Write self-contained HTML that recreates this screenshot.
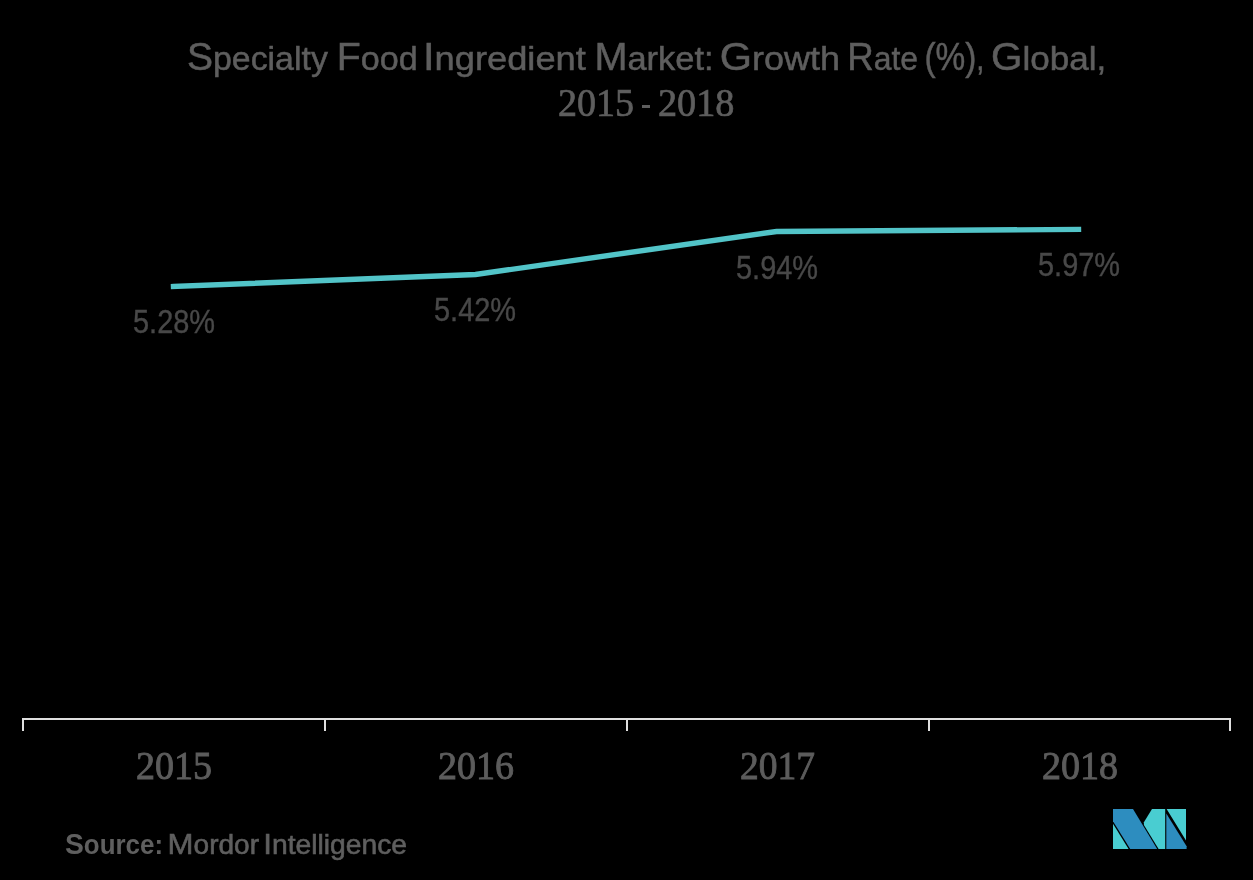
<!DOCTYPE html>
<html><head><meta charset="utf-8">
<style>
html,body{margin:0;padding:0;background:#000;width:1253px;height:880px;overflow:hidden}
svg{position:absolute;left:0;top:0;display:block;will-change:transform}
text{font-family:"Liberation Sans",sans-serif}
</style></head>
<body>
<svg width="1253" height="880" viewBox="0 0 1253 880">
<rect x="0" y="0" width="1253" height="880" fill="#000"/>
<text x="187.00" y="70" font-size="38" font-weight="normal" fill="#5e5e5e" stroke="#5e5e5e" stroke-width="0.5" textLength="140.81" lengthAdjust="spacingAndGlyphs"><tspan>S</tspan><tspan font-size="33">pecialty</tspan></text>
<text x="336.80" y="70" font-size="38" font-weight="normal" fill="#5e5e5e" stroke="#5e5e5e" stroke-width="0.5" textLength="80.97" lengthAdjust="spacingAndGlyphs"><tspan>F</tspan><tspan font-size="33">ood</tspan></text>
<text x="422.90" y="70" font-size="38" font-weight="normal" fill="#5e5e5e" stroke="#5e5e5e" stroke-width="0.5" textLength="162.98" lengthAdjust="spacingAndGlyphs"><tspan>I</tspan><tspan font-size="33">ngredient</tspan></text>
<text x="594.40" y="70" font-size="38" font-weight="normal" fill="#5e5e5e" stroke="#5e5e5e" stroke-width="0.5" textLength="119.19" lengthAdjust="spacingAndGlyphs"><tspan>M</tspan><tspan font-size="33">arket:</tspan></text>
<text x="719.70" y="70" font-size="38" font-weight="normal" fill="#5e5e5e" stroke="#5e5e5e" stroke-width="0.5" textLength="120.33" lengthAdjust="spacingAndGlyphs"><tspan>G</tspan><tspan font-size="33">rowth</tspan></text>
<text x="847.20" y="70" font-size="38" font-weight="normal" fill="#5e5e5e" stroke="#5e5e5e" stroke-width="0.5" textLength="70.90" lengthAdjust="spacingAndGlyphs"><tspan>R</tspan><tspan font-size="33">ate</tspan></text>
<text x="924.40" y="70" font-size="38" font-weight="normal" fill="#5e5e5e" stroke="#5e5e5e" stroke-width="0.5" textLength="60.02" lengthAdjust="spacingAndGlyphs"><tspan>(%)</tspan><tspan font-size="33">,</tspan></text>
<text x="991.00" y="70" font-size="38" font-weight="normal" fill="#5e5e5e" stroke="#5e5e5e" stroke-width="0.5" textLength="115.26" lengthAdjust="spacingAndGlyphs"><tspan>G</tspan><tspan font-size="33">lobal,</tspan></text>
<text x="558.00" y="115.5" font-size="40" font-weight="normal" style="font-family:&quot;Liberation Serif&quot;" fill="#5e5e5e" stroke="#5e5e5e" stroke-width="0.7" textLength="76.06" lengthAdjust="spacingAndGlyphs">2015</text>
<text x="658.00" y="115.5" font-size="40" font-weight="normal" style="font-family:&quot;Liberation Serif&quot;" fill="#5e5e5e" stroke="#5e5e5e" stroke-width="0.7" textLength="76.48" lengthAdjust="spacingAndGlyphs">2018</text>
<text x="133.00" y="333" font-size="34" font-weight="normal" fill="#484848" stroke="#484848" stroke-width="0.4" textLength="82.05" lengthAdjust="spacingAndGlyphs">5.28%</text>
<text x="434.00" y="321" font-size="34" font-weight="normal" fill="#484848" stroke="#484848" stroke-width="0.4" textLength="82.05" lengthAdjust="spacingAndGlyphs">5.42%</text>
<text x="736.00" y="279" font-size="34" font-weight="normal" fill="#484848" stroke="#484848" stroke-width="0.4" textLength="82.05" lengthAdjust="spacingAndGlyphs">5.94%</text>
<text x="1038.00" y="276" font-size="34" font-weight="normal" fill="#484848" stroke="#484848" stroke-width="0.4" textLength="82.05" lengthAdjust="spacingAndGlyphs">5.97%</text>
<text x="136.00" y="779.3" font-size="41" font-weight="normal" style="font-family:&quot;Liberation Serif&quot;" fill="#5c5c5c" stroke="#5c5c5c" stroke-width="0.9" textLength="76.06" lengthAdjust="spacingAndGlyphs">2015</text>
<text x="438.00" y="779.3" font-size="41" font-weight="normal" style="font-family:&quot;Liberation Serif&quot;" fill="#5c5c5c" stroke="#5c5c5c" stroke-width="0.9" textLength="76.06" lengthAdjust="spacingAndGlyphs">2016</text>
<text x="740.00" y="779.3" font-size="41" font-weight="normal" style="font-family:&quot;Liberation Serif&quot;" fill="#5c5c5c" stroke="#5c5c5c" stroke-width="0.9" textLength="75.04" lengthAdjust="spacingAndGlyphs">2017</text>
<text x="1042.00" y="779.3" font-size="41" font-weight="normal" style="font-family:&quot;Liberation Serif&quot;" fill="#5c5c5c" stroke="#5c5c5c" stroke-width="0.9" textLength="76.06" lengthAdjust="spacingAndGlyphs">2018</text>
<text x="65.00" y="854" font-size="30" font-weight="bold" fill="#5f5f5f" textLength="98.10" lengthAdjust="spacingAndGlyphs"><tspan>S</tspan><tspan font-size="27.5">ource:</tspan></text>
<text x="167.60" y="854" font-size="30" font-weight="normal" fill="#5f5f5f" stroke="#5f5f5f" stroke-width="0.6" textLength="91.39" lengthAdjust="spacingAndGlyphs"><tspan>M</tspan><tspan font-size="27">ordor</tspan></text>
<text x="263.30" y="854" font-size="30" font-weight="normal" fill="#5f5f5f" stroke="#5f5f5f" stroke-width="0.6" textLength="143.79" lengthAdjust="spacingAndGlyphs"><tspan>I</tspan><tspan font-size="27">ntelligence</tspan></text>
<rect x="642" y="105" width="8" height="3" fill="#5e5e5e"/>
<polyline points="173.5,286.5 475.5,274.5 776.5,231.5 1078.5,229.4" fill="none" stroke="#52c4c8" stroke-width="5.4" stroke-linecap="square" stroke-linejoin="miter"/>
<path d="M23,719 H1230 M23,718 V731 M325,718 V731 M627,718 V731 M929,718 V731 M1230,718 V731" stroke="#dfdfdf" stroke-width="2" fill="none"/>
<g>
<polygon points="1113,809 1133,809 1157.2,849 1130.2,849 1113,821.3" fill="#2d8dbf"/>
<polygon points="1113,823.8 1128.6,849 1113,849" fill="#49cdd1"/>
<polygon points="1152,809 1165.2,809 1165.2,849 1158.6,849 1143.9,825 1143.9,822.2" fill="#49cdd1"/>
<polygon points="1166.3,809 1186,809 1186,840.6 1166.6,809" fill="#49cdd1"/>
<polygon points="1166.3,813.5 1186.6,846.2 1186.6,849 1166.3,849" fill="#2d8dbf"/>
</g>
</svg>
</body></html>
